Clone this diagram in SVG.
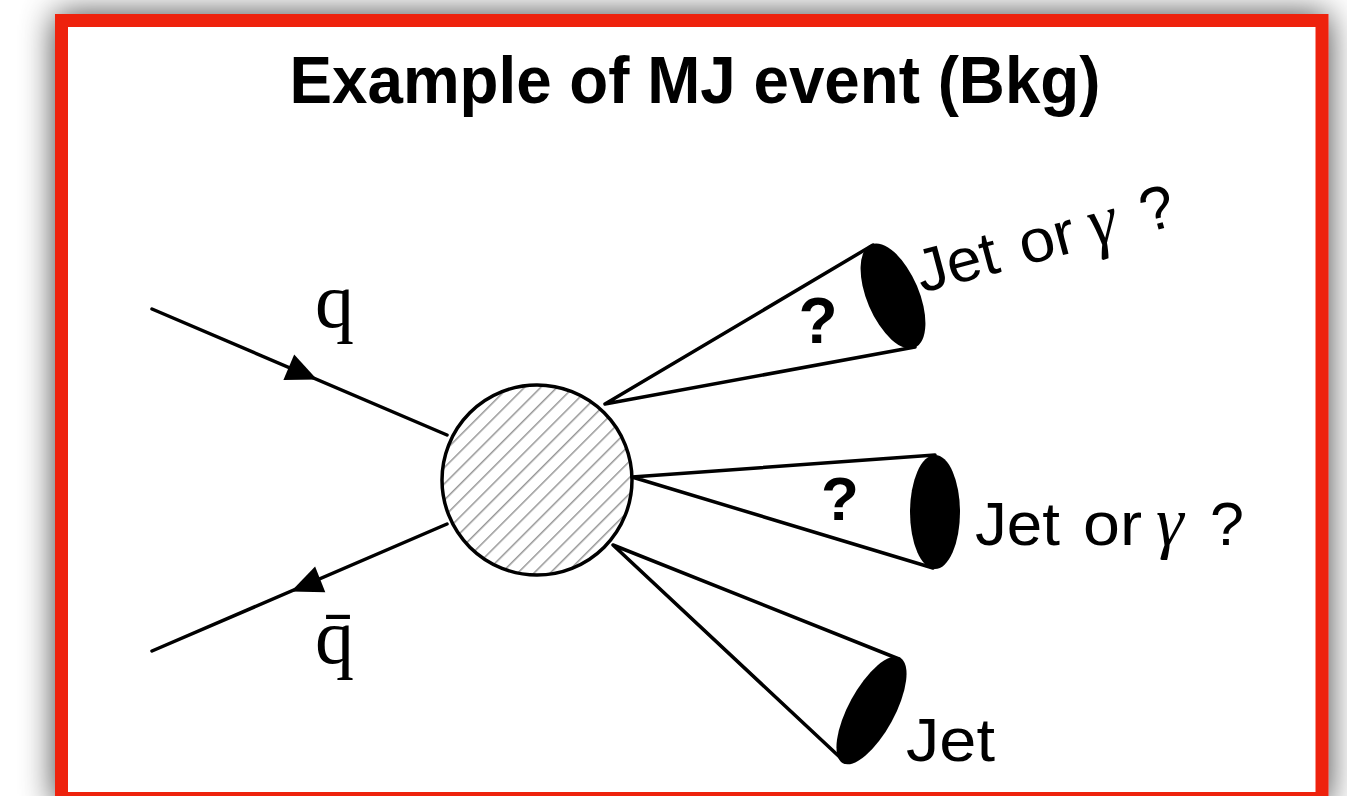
<svg xmlns="http://www.w3.org/2000/svg" width="1347" height="796" viewBox="0 0 1347 796">
<style>
.ln{stroke:#000;stroke-width:3.5;fill:none;stroke-linecap:round;stroke-linejoin:round}
.lbl{font-family:"Liberation Sans",Arial,sans-serif;font-size:61px;fill:#000}
.gam{font-family:"Liberation Serif","Times New Roman",serif;font-style:italic;font-size:70px}
.qm{font-family:"Liberation Sans",Arial,sans-serif;font-weight:bold;fill:#000;text-anchor:middle}
.q{font-family:"Liberation Serif","Times New Roman",serif;font-size:78px;fill:#000}
</style>
<defs>
<filter id="sh" x="-10%" y="-10%" width="120%" height="120%">
<feGaussianBlur in="SourceAlpha" stdDeviation="17"/>
<feComponentTransfer><feFuncA type="linear" slope="0.75"/></feComponentTransfer>
<feMerge><feMergeNode/><feMergeNode in="SourceGraphic"/></feMerge>
</filter>
<pattern id="hatch" patternUnits="userSpaceOnUse" width="11.5" height="11.5" patternTransform="rotate(45)">
<rect width="11.5" height="11.5" fill="#fff"/>
<line x1="0" y1="0" x2="0" y2="11.5" stroke="#979797" stroke-width="3"/>
</pattern>
</defs>
<rect width="1347" height="796" fill="#fff"/>
<rect id="frame" x="61.5" y="20.5" width="1260.5" height="778" fill="#fff" stroke="#EE2210" stroke-width="13" filter="url(#sh)"/>
<text x="695" y="103" font-family="Liberation Sans,Arial,sans-serif" font-weight="bold" font-size="67" text-anchor="middle" textLength="811" lengthAdjust="spacingAndGlyphs">Example of MJ event (Bkg)</text>
<g id="connectors">
<line class="ln" x1="152" y1="309" x2="447" y2="435"/>
<polygon points="317,379.5 283.4,380.1 294.2,354.6" fill="#000"/>
<line class="ln" x1="152" y1="651" x2="447" y2="524"/>
<polygon points="291,591.4 325.3,592.3 315.1,566.5" fill="#000"/>
</g>
<g id="blob">
<circle cx="537" cy="480" r="95" fill="url(#hatch)" stroke="#000" stroke-width="3.5"/>
</g>
<g id="jet1">
<path class="ln" d="M873,245 L605,404 L915,347"/>
<ellipse cx="0" cy="0" rx="26" ry="56" transform="translate(893,296) rotate(-23)" fill="#000"/>
<text class="qm" x="818" y="343" font-size="64">?</text>
<text class="lbl" transform="translate(922,293) rotate(-15)"><tspan x="0" textLength="83" lengthAdjust="spacingAndGlyphs">Jet</tspan><tspan x="106" textLength="57" lengthAdjust="spacingAndGlyphs">or</tspan><tspan class="gam" x="178">γ</tspan><tspan x="232">?</tspan></text>
</g>
<g id="jet2">
<path class="ln" d="M935,455 L632,477 L933,568"/>
<ellipse cx="935" cy="512" rx="25" ry="57" fill="#000"/>
<text class="qm" x="840" y="520" font-size="62">?</text>
<text class="lbl" y="545"><tspan x="975" textLength="85" lengthAdjust="spacingAndGlyphs">Jet</tspan><tspan x="1083" textLength="59" lengthAdjust="spacingAndGlyphs">or</tspan><tspan class="gam" x="1156">γ</tspan><tspan x="1210">?</tspan></text>
</g>
<g id="jet3">
<path class="ln" d="M899,659 L613,545 L845,762"/>
<ellipse cx="0" cy="0" rx="23" ry="60" transform="translate(871.5,710.5) rotate(28.5)" fill="#000"/>
<text class="lbl" x="906" y="761" font-size="64" textLength="89" lengthAdjust="spacingAndGlyphs">Jet</text>
</g>
<g id="labels">
<text class="q" x="315" y="327">q</text>
<text class="q" x="315" y="663">q̄</text>
</g>
</svg>
